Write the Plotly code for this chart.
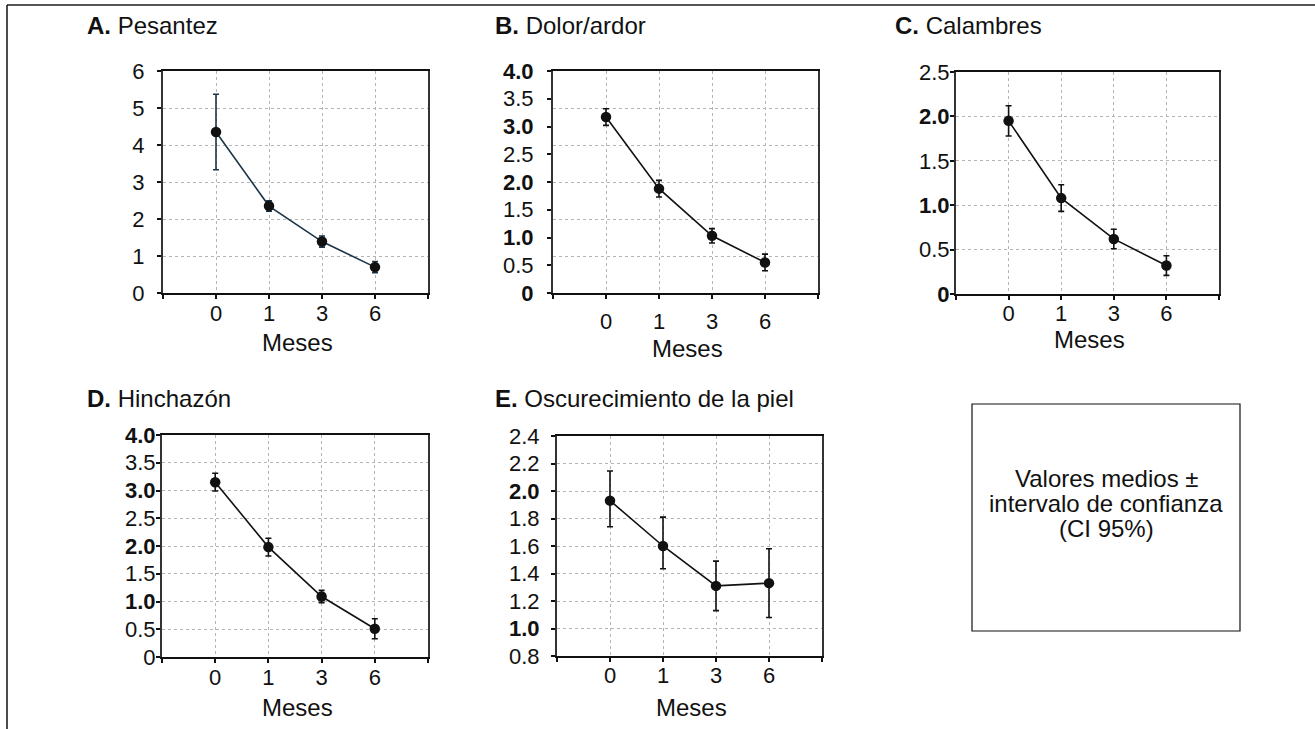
import numpy as np
import plotly.graph_objects as go

W, H = 1315, 729
FONT = "Liberation Sans, Arial, Helvetica, sans-serif"

# ---------------- data ----------------
months = ["0", "1", "3", "6"]

titles = ["Pesantez", "Dolor/ardor", "Calambres", "Hinchazón", "Oscurecimiento de la piel"]
letters = ["A.", "B.", "C.", "D.", "E."]

mean_A = [4.35, 2.35, 1.39, 0.70]
err_A = [1.02, 0.14, 0.15, 0.15]

mean_B = [3.17, 1.88, 1.03, 0.55]
err_B = [0.15, 0.15, 0.13, 0.15]

mean_C = [1.95, 1.08, 0.62, 0.32]
err_C = [0.17, 0.15, 0.11, 0.11]

mean_D = [3.15, 1.98, 1.09, 0.51]
err_D = [0.16, 0.16, 0.11, 0.18]

mean_E = [1.93, 1.60, 1.31, 1.33]
err_E_plus = [0.215, 0.21, 0.18, 0.25]
err_E_minus = [0.19, 0.165, 0.18, 0.25]

yticks_A = [0, 1, 2, 3, 4, 5, 6]
yticks_B = [0, 0.5, 1.0, 1.5, 2.0, 2.5, 3.0, 3.5, 4.0]
yticks_C = [0, 0.5, 1.0, 1.5, 2.0, 2.5]
yticks_D = [0, 0.5, 1.0, 1.5, 2.0, 2.5, 3.0, 3.5, 4.0]
yticks_E = [0.8, 1.0, 1.2, 1.4, 1.6, 1.8, 2.0, 2.2, 2.4]

note_lines = ["Valores medios ±", "intervalo de confianza", "(CI 95%)"]

# ---------------- helpers ----------------
def px(x):
    return x / W

def py(y):
    return 1 - y / H

def fmt(v, dec):
    if v == 0:
        return "0"
    return f"{v:.{dec}f}" if dec else f"{int(round(v))}"

panels = [
    dict(mean=mean_A, ep=err_A, em=err_A, ticks=yticks_A, dec=0, bold=[],
         yr=[0, 6], box=(163, 428, 71, 293), color="#1d3546", ystand=8, xstand=-4,
         tx=85, ty=25, my=342, grid=None),
    dict(mean=mean_B, ep=err_B, em=err_B, ticks=yticks_B, dec=1, bold=[0, 1.0, 2.0, 3.0, 4.0],
         yr=[0, 4], box=(553, 818, 71, 293), color="#111111", ystand=9, xstand=4,
         tx=493, ty=25, my=348, grid=list(np.linspace(0, 4, 7)[1:-1])),
    dict(mean=mean_C, ep=err_C, em=err_C, ticks=yticks_C, dec=1, bold=[0, 1.0, 2.0],
         yr=[0, 2.5], box=(956, 1219, 72, 294), color="#111111", ystand=-4, xstand=-5,
         tx=893, ty=25, my=340, grid=None),
    dict(mean=mean_D, ep=err_D, em=err_D, ticks=yticks_D, dec=1, bold=[1.0, 2.0, 3.0, 4.0],
         yr=[0, 4], box=(162, 428, 435, 657), color="#111111", ystand=-4, xstand=-4,
         tx=85, ty=399, my=707, grid=None),
    dict(mean=mean_E, ep=err_E_plus, em=err_E_minus, ticks=yticks_E, dec=1, bold=[1.0, 2.0],
         yr=[0.8, 2.4], box=(557, 822, 436, 656), color="#111111", ystand=7, xstand=-5,
         tx=493, ty=398, my=707, grid=None),
]

fig = go.Figure()
annotations = []
shapes = []
xpos = list(range(len(months)))

for i, p in enumerate(panels):
    n = "" if i == 0 else str(i + 1)
    xa, ya = "x" + n, "y" + n
    fig.add_trace(go.Scatter(
        x=xpos, y=p["mean"], xaxis=xa, yaxis=ya, mode="lines+markers",
        line=dict(color=p["color"], width=1.6),
        marker=dict(color="#111111", size=10.5),
        error_y=dict(type="data", array=p["ep"], arrayminus=p["em"], symmetric=False,
                     color=p["color"], thickness=1.6, width=3),
        showlegend=False, hoverinfo="skip", cliponaxis=False,
    ))
    x0, x1, y0, y1 = p["box"]
    tickv = [-1] + xpos + [len(months)]
    tickt = [""] + months + [""]
    xaxis = dict(
        domain=[px(x0), px(x1)], anchor=ya, range=[-1, len(months)],
        tickmode="array", tickvals=tickv, ticktext=tickt,
        showgrid=True, gridcolor="#b5b5b5", griddash="dot", gridwidth=1,
        showline=True, linecolor="#111111", linewidth=2, mirror=True,
        ticks="outside", ticklen=4, tickcolor="#111111", tickwidth=1.5,
        ticklabelstandoff=p["xstand"],
        tickfont=dict(family=FONT, size=22, color="#111111"),
        zeroline=False, fixedrange=True,
    )
    ytext = []
    for v in p["ticks"]:
        s = fmt(v, p["dec"])
        if any(abs(v - b) < 1e-9 for b in p["bold"]):
            s = "<b>" + s + "</b>"
        ytext.append(s)
    yaxis = dict(
        domain=[py(y1), py(y0)], anchor=xa, range=p["yr"],
        tickmode="array", tickvals=p["ticks"], ticktext=ytext,
        showgrid=p["grid"] is None, gridcolor="#b5b5b5", griddash="dot", gridwidth=1,
        showline=True, linecolor="#333333", linewidth=2, mirror=True,
        ticks="outside", ticklen=4, tickcolor="#111111", tickwidth=1.5,
        ticklabelstandoff=p["ystand"],
        tickfont=dict(family=FONT, size=22, color="#111111"),
        zeroline=False, fixedrange=True,
    )
    if p["grid"] is not None:
        yaxis["minor"] = dict(tickmode="array", tickvals=p["grid"], showgrid=True,
                              gridcolor="#b5b5b5", griddash="dot", gridwidth=1, ticks="")
    fig.layout["xaxis" + n] = xaxis
    fig.layout["yaxis" + n] = yaxis

    annotations.append(dict(
        x=px(p["tx"]), y=py(p["ty"]), xref="paper", yref="paper",
        xanchor="left", yanchor="middle", showarrow=False,
        text=f"<b>{letters[i]}</b> {titles[i]}",
        font=dict(family=FONT, size=24, color="#111111"),
    ))
    annotations.append(dict(
        x=px((x0 + x1) / 2 + 2), y=py(p["my"]), xref="paper", yref="paper",
        xanchor="center", yanchor="middle", showarrow=False, text="Meses",
        font=dict(family=FONT, size=24, color="#111111"),
    ))

# note box
bx0, bx1, by0, by1 = 972, 1240, 404, 631
shapes.append(dict(type="rect", xref="paper", yref="paper",
                   x0=px(bx0), x1=px(bx1), y0=py(by1), y1=py(by0),
                   line=dict(color="#111111", width=1.2), fillcolor="rgba(0,0,0,0)"))
for k, line in enumerate(note_lines):
    annotations.append(dict(
        x=px((bx0 + bx1) / 2), y=py(478 + 25 * k), xref="paper", yref="paper",
        xanchor="center", yanchor="middle", showarrow=False, text=line,
        font=dict(family=FONT, size=24, color="#111111"),
    ))

# outer frame lines (top and left)
shapes.append(dict(type="line", xref="paper", yref="paper",
                   x0=px(7), x1=1, y0=py(5), y1=py(5),
                   line=dict(color="#555555", width=2)))
shapes.append(dict(type="line", xref="paper", yref="paper",
                   x0=px(7), x1=px(7), y0=py(5), y1=0,
                   line=dict(color="#111111", width=1.5)))

fig.update_layout(
    width=W, height=H, margin=dict(l=0, r=0, t=0, b=0, autoexpand=False),
    paper_bgcolor="white", plot_bgcolor="white",
    annotations=annotations, shapes=shapes,
    font=dict(family=FONT, color="#111111"),
    showlegend=False,
)

fig.write_html(
    "out.html",
    config={"displayModeBar": False},
    post_script="document.body.style.margin='0';document.body.style.overflow='hidden';",
)
